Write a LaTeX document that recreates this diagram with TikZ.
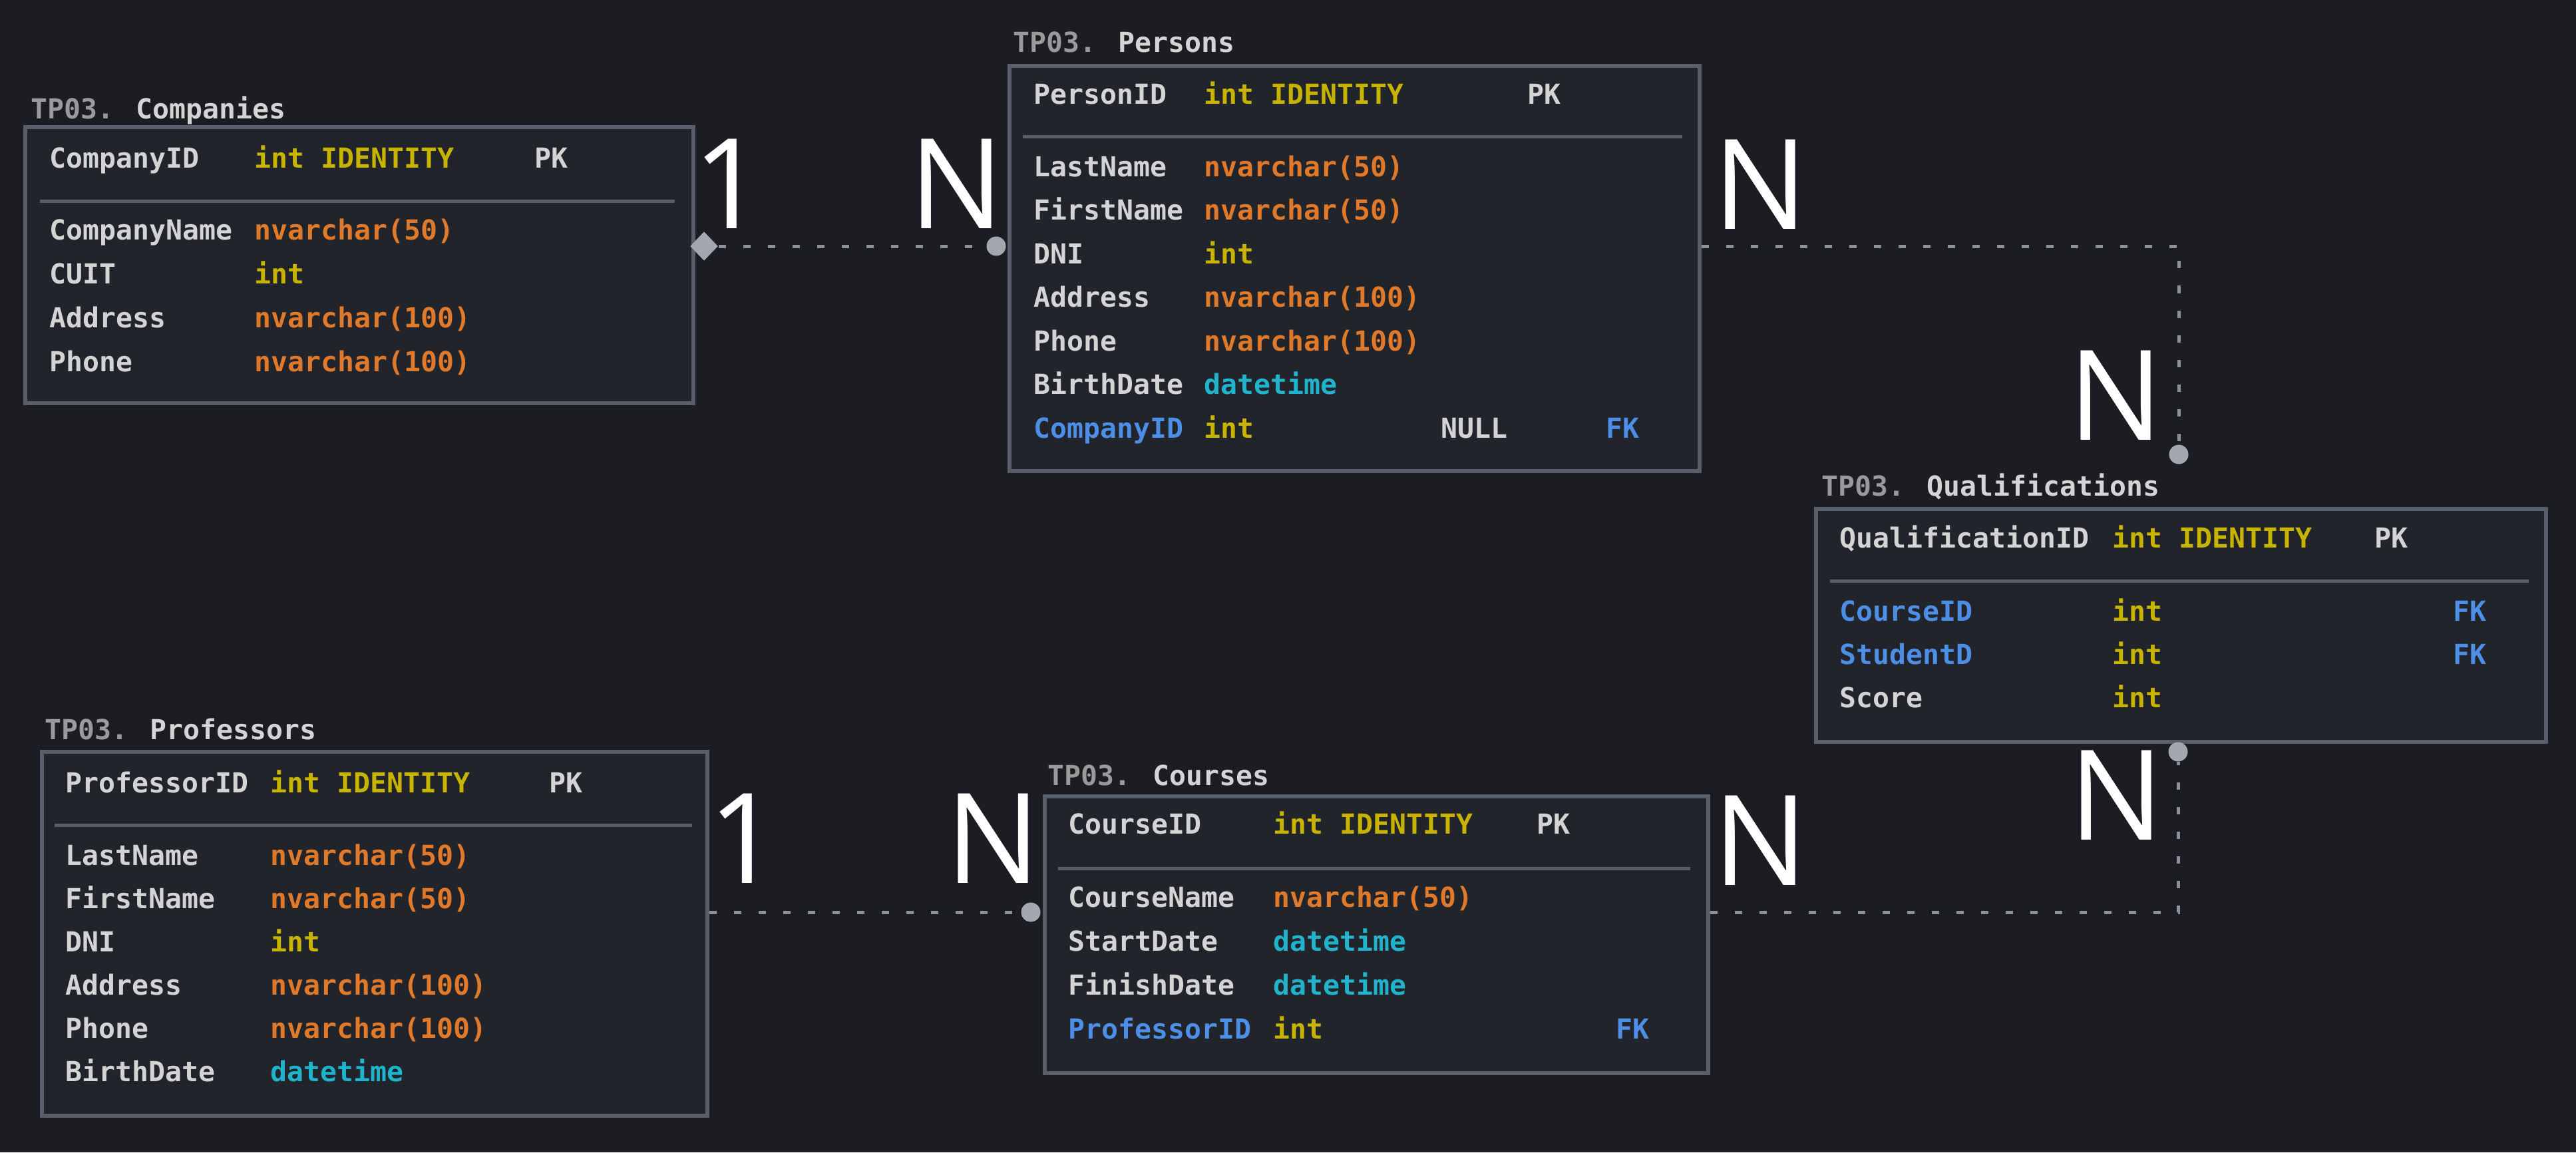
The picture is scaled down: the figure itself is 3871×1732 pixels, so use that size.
\documentclass[tikz,border=0pt]{standalone}
\usepackage{fontspec}
\usepackage{xcolor}
\usepackage{tikz}
\usetikzlibrary{shapes.geometric}
\newfontfamily\codefont{DejaVu Sans Mono}
\newfontfamily\cardfont{Open Sans}

\definecolor{bgdark}{HTML}{1C1D22}
\definecolor{boxfill}{HTML}{22242B}
\definecolor{boxline}{HTML}{595E6B}
\definecolor{fieldtxt}{HTML}{D4D4D4}
\definecolor{schematxt}{HTML}{9A9A9A}
\definecolor{strtype}{HTML}{E07A2A}
\definecolor{inttype}{HTML}{C8B400}
\definecolor{datetype}{HTML}{20B4CC}
\definecolor{fkblue}{HTML}{4D8EE6}
\definecolor{relgray}{HTML}{8C9099}
\definecolor{endgray}{HTML}{A4A7AF}

\tikzset{
  tablebox/.style={draw=boxline, fill=boxfill, line width=0.55mm, anchor=north west, inner sep=0pt},
  field/.style={anchor=base west, inner sep=0pt, text=fieldtxt, font=\codefont\bfseries\fontsize{11.8}{14}\selectfont},
  fkfield/.style={field, text=fkblue},
  strcol/.style={field, text=strtype},
  intcol/.style={field, text=inttype},
  datecol/.style={field, text=datetype},
  sepline/.style={draw=boxline, line width=0.5mm},
  card/.style={anchor=base, inner sep=0pt, text=white, font=\cardfont\fontsize{53.6}{60}\selectfont},
  rel/.style={draw=relgray, line width=0.5mm, dash pattern=on 1.1mm off 2.6mm},
  endball/.style={circle, fill=endgray, inner sep=0pt, minimum size=2.9mm},
  endkite/.style={diamond, fill=endgray, inner sep=0pt, minimum width=4.2mm, minimum height=4.4mm}
}

\begin{document}
\begin{tikzpicture}[x=0.1mm, y=-0.1mm]
\fill[bgdark] (0,0) rectangle (3871,1732);
\useasboundingbox (0,0) rectangle (3871,1732);

\node[tablebox, minimum width=100.4mm, minimum height=41.5mm] (companies) at (35,188) {};
\node[field] (co-title) at (46,178) {\textcolor{schematxt}{TP03.} Companies};
\node[field] (co-id) at (74,252) {CompanyID};
\node[intcol] (co-idt) at (382,252) {int IDENTITY};
\node[field] (co-pk) at (803,252) {PK};
\draw[sepline] (60,302) -- (1014,302);
\node[field] (co-name) at (74,360) {CompanyName};
\node[strcol] (co-namet) at (382,360) {nvarchar(50)};
\node[field] (co-cuit) at (74,426) {CUIT};
\node[intcol] (co-cuitt) at (382,426) {int};
\node[field] (co-addr) at (74,492) {Address};
\node[strcol] (co-addrt) at (382,492) {nvarchar(100)};
\node[field] (co-phone) at (74,558) {Phone};
\node[strcol] (co-phonet) at (382,558) {nvarchar(100)};

\node[tablebox, minimum width=103.7mm, minimum height=60.9mm] (persons) at (1514,96) {};
\node[field] (pe-title) at (1522,78) {\textcolor{schematxt}{TP03.} Persons};
\node[field] (pe-id) at (1553,156) {PersonID};
\node[intcol] (pe-idt) at (1809,156) {int IDENTITY};
\node[field] (pe-pk) at (2295,156) {PK};
\draw[sepline] (1537,205) -- (2528,205);
\node[field] (pe-last) at (1553,265) {LastName};
\node[strcol] (pe-lastt) at (1809,265) {nvarchar(50)};
\node[field] (pe-first) at (1553,330) {FirstName};
\node[strcol] (pe-firstt) at (1809,330) {nvarchar(50)};
\node[field] (pe-dni) at (1553,396) {DNI};
\node[intcol] (pe-dnit) at (1809,396) {int};
\node[field] (pe-addr) at (1553,461) {Address};
\node[strcol] (pe-addrt) at (1809,461) {nvarchar(100)};
\node[field] (pe-phone) at (1553,527) {Phone};
\node[strcol] (pe-phonet) at (1809,527) {nvarchar(100)};
\node[field] (pe-birth) at (1553,592) {BirthDate};
\node[datecol] (pe-birtht) at (1809,592) {datetime};
\node[fkfield] (pe-co) at (1553,658) {CompanyID};
\node[intcol] (pe-cot) at (1809,658) {int};
\node[field] (pe-null) at (2165,658) {NULL};
\node[fkfield] (pe-fk) at (2413,658) {FK};

\node[tablebox, minimum width=109.7mm, minimum height=35mm] (qualif) at (2726,762) {};
\node[field] (qu-title) at (2737,745) {\textcolor{schematxt}{TP03.} Qualifications};
\node[field] (qu-id) at (2764,823) {QualificationID};
\node[intcol] (qu-idt) at (3174,823) {int IDENTITY};
\node[field] (qu-pk) at (3568,823) {PK};
\draw[sepline] (2750,873) -- (3800,873);
\node[fkfield] (qu-course) at (2764,933) {CourseID};
\node[intcol] (qu-courset) at (3174,933) {int};
\node[fkfield] (qu-fk1) at (3686,933) {FK};
\node[fkfield] (qu-stud) at (2764,998) {StudentD};
\node[intcol] (qu-studt) at (3174,998) {int};
\node[fkfield] (qu-fk2) at (3686,998) {FK};
\node[field] (qu-score) at (2764,1063) {Score};
\node[intcol] (qu-scoret) at (3174,1063) {int};

\node[tablebox, minimum width=100mm, minimum height=54.7mm] (professors) at (60,1127) {};
\node[field] (pr-title) at (67,1111) {\textcolor{schematxt}{TP03.} Professors};
\node[field] (pr-id) at (98,1191) {ProfessorID};
\node[intcol] (pr-idt) at (406,1191) {int IDENTITY};
\node[field] (pr-pk) at (825,1191) {PK};
\draw[sepline] (82,1240) -- (1040,1240);
\node[field] (pr-last) at (98,1300) {LastName};
\node[strcol] (pr-lastt) at (406,1300) {nvarchar(50)};
\node[field] (pr-first) at (98,1365) {FirstName};
\node[strcol] (pr-firstt) at (406,1365) {nvarchar(50)};
\node[field] (pr-dni) at (98,1430) {DNI};
\node[intcol] (pr-dnit) at (406,1430) {int};
\node[field] (pr-addr) at (98,1495) {Address};
\node[strcol] (pr-addrt) at (406,1495) {nvarchar(100)};
\node[field] (pr-phone) at (98,1560) {Phone};
\node[strcol] (pr-phonet) at (406,1560) {nvarchar(100)};
\node[field] (pr-birth) at (98,1625) {BirthDate};
\node[datecol] (pr-birtht) at (406,1625) {datetime};

\node[tablebox, minimum width=99.7mm, minimum height=41.6mm] (courses) at (1567,1194) {};
\node[field] (cs-title) at (1574,1180) {\textcolor{schematxt}{TP03.} Courses};
\node[field] (cs-id) at (1605,1253) {CourseID};
\node[intcol] (cs-idt) at (1913,1253) {int IDENTITY};
\node[field] (cs-pk) at (2309,1253) {PK};
\draw[sepline] (1590,1305) -- (2540,1305);
\node[field] (cs-name) at (1605,1363) {CourseName};
\node[strcol] (cs-namet) at (1913,1363) {nvarchar(50)};
\node[field] (cs-start) at (1605,1429) {StartDate};
\node[datecol] (cs-startt) at (1913,1429) {datetime};
\node[field] (cs-finish) at (1605,1495) {FinishDate};
\node[datecol] (cs-finisht) at (1913,1495) {datetime};
\node[fkfield] (cs-prof) at (1605,1561) {ProfessorID};
\node[intcol] (cs-proft) at (1913,1561) {int};
\node[fkfield] (cs-fk) at (2428,1561) {FK};

\node[endkite] (co-end) at (1058,370) {};
\node[endball] (pe-end) at (1497,370) {};
\draw[rel] (co-end) -- (pe-end);
\coordinate (pe-out) at (persons.east |- pe-end);
\node[endball] (qu-top) at (3274,683) {};
\draw[rel] (pe-out) -| (qu-top);
\node[endball] (cs-end) at (1549,1371) {};
\coordinate (pr-out) at (professors.east |- cs-end);
\draw[rel] (pr-out) -- (cs-end);
\coordinate (cs-out) at (courses.east |- cs-end);
\node[endball] (qu-bot) at (3273,1130) {};
\draw[rel] (cs-out) -| (qu-bot);

\node[card] (co-one) at (1095,343) {1};
\node[card] (pe-n1) at (1437,343) {N};
\node[card] (pe-n2) at (2645,344) {N};
\node[card] (qu-n1) at (3179,661) {N};
\node[card] (qu-n2) at (3180,1262) {N};
\node[card] (pr-one) at (1118,1327) {1};
\node[card] (cs-n1) at (1492,1327) {N};
\node[card] (cs-n2) at (2645,1330) {N};
\end{tikzpicture}
\end{document}
